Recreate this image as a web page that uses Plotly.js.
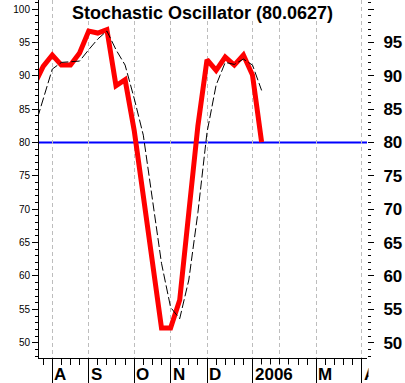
<!DOCTYPE html>
<html>
<head>
<meta charset="utf-8">
<script src="https://cdn.plot.ly/plotly-3.0.1.min.js"></script>
<style>html,body{margin:0;padding:0;background:#fff}#chart{width:405px;height:383px}</style>
</head>
<body>
<div id="chart"></div>
<script>
// week index (0 = first week of August 2005)
const weekIdx = [-2,-1,0,1,2,3,4,5,6,7,8,9,10,11,12,13,14,15,16,17,18,19,20,21,22,23];
// %K (fast stochastic)
const stochK = [88.6,91.4,93.1,91.6,91.6,93.4,96.7,96.4,96.9,88.5,89.4,81.8,72.0,61.5,52.2,52.2,56.4,69.5,82.5,92.4,90.8,92.8,91.6,93.1,90.1,80.06];
// %D (signal)
const stochD = [82.0,86.4,91.0,92.0,92.1,92.2,93.9,95.5,96.7,93.9,91.6,86.6,81.1,71.8,61.9,55.3,53.6,59.4,69.5,81.5,88.6,92.0,91.7,92.5,91.6,87.8];
// month gridlines / labels
const monthTickIdx = [0,4,9,13,17,22,25,29,34];
const monthLabels = ['A','S','O','N','D','2006','','M','A'];
// y ticks
const yTickVals = [50,55,60,65,70,75,80,85,90,95,100];
const leftTickText = ['50','55','60','65','70','75','80','85','90','95','100'];
const rightTickText = ['50','55','60','65','70','75','80','85','90','95',''];
const refLevel = 80;
const titleText = 'Stochastic Oscillator (80.0627)';

const xRange = [-1.46, 34.58];
const yRange = [47.71, 101.35];

const traces = [
  {x: weekIdx, y: stochK, type: 'scatter', mode: 'lines', yaxis: 'y2',
   line: {color: '#ff0000', width: 5}, hoverinfo: 'skip'},
  {x: weekIdx, y: stochD, type: 'scatter', mode: 'lines', yaxis: 'y2',
   line: {color: '#000000', width: 1, dash: '9px,3px'}, hoverinfo: 'skip'}
];

const labelFont = {family: 'Liberation Sans, Arial, sans-serif', size: 17, color: '#000', weight: 'bold'};

const annotations = monthTickIdx.map((v, i) => ({
  x: v, xref: 'x', y: -0.0447, yref: 'paper', text: monthLabels[i],
  xanchor: 'left', yanchor: 'middle', xshift: 1, showarrow: false,
  font: labelFont, bgcolor: monthLabels[i] === '2006' ? '#ffffff' : 'rgba(0,0,0,0)', borderpad: 0
})).filter(a => a.text !== '');
// clip anything beyond the right edge of the plot in the label row
annotations.push({x: 1, xref: 'paper', y: -0.0447, yref: 'paper', text: ' ', xanchor: 'left', yanchor: 'middle',
  xshift: 0.5, width: 30, height: 22, bgcolor: '#ffffff', showarrow: false, borderpad: 0});

const layout = {
  width: 405, height: 383,
  margin: {l: 39, r: 38, t: 0, b: 25, pad: 0},
  paper_bgcolor: '#ffffff', plot_bgcolor: '#ffffff',
  showlegend: false,
  title: {text: titleText, xref: 'container', yref: 'container', x: 0.5, y: 0.966,
          xanchor: 'center', yanchor: 'middle',
          font: {family: 'Liberation Sans, Arial, sans-serif', size: 18, color: '#000', weight: 'bold'}},
  xaxis: {
    range: xRange, fixedrange: true, zeroline: false,
    showline: true, linecolor: '#000', linewidth: 1,
    tickmode: 'array', tickvals: monthTickIdx, showticklabels: false,
    ticks: 'outside', ticklen: 24, tickwidth: 1, tickcolor: '#000',
    showgrid: true, gridcolor: '#bdbdbd', gridwidth: 1, griddash: '4px,3px',
    minor: {tickmode: 'linear', tick0: 0, dtick: 1, ticks: 'outside', ticklen: 6, tickwidth: 1, tickcolor: '#000', showgrid: false}
  },
  yaxis: {
    range: yRange, fixedrange: true, zeroline: false, showgrid: false,
    showline: true, linecolor: '#000', linewidth: 1,
    tickmode: 'array', tickvals: yTickVals, ticktext: leftTickText,
    ticks: 'outside', ticklen: 6, tickwidth: 1, tickcolor: '#000',
    tickfont: {family: 'Liberation Sans Narrow, Arial Narrow, Liberation Sans, Arial, sans-serif', size: 10, color: '#000'},
    minor: {tickmode: 'linear', tick0: 0, dtick: 1, ticks: 'outside', ticklen: 3, tickwidth: 1, tickcolor: '#000', showgrid: false}
  },
  yaxis2: {
    range: yRange, fixedrange: true, overlaying: 'y', side: 'right', zeroline: false, showgrid: false,
    showline: false,
    tickmode: 'array', tickvals: yTickVals, ticktext: rightTickText,
    ticks: 'outside', ticklen: 6, tickwidth: 1, tickcolor: '#000',
    ticklabelstandoff: 6,
    tickfont: labelFont,
    minor: {tickmode: 'linear', tick0: 0, dtick: 1, ticks: 'outside', ticklen: 3, tickwidth: 1, tickcolor: '#000', showgrid: false}
  },
  shapes: [
    {type: 'line', xref: 'paper', x0: 0, x1: 1, yref: 'y', y0: refLevel, y1: refLevel,
     line: {color: '#0000ff', width: 2}, layer: 'below'},
    {type: 'rect', xref: 'paper', x0: 0.082, x1: 0.918, yref: 'paper', y0: 0.941, y1: 1,
     fillcolor: '#ffffff', line: {width: 0}, layer: 'above'}
  ],
  annotations: annotations
};

Plotly.newPlot('chart', traces, layout, {staticPlot: true, displayModeBar: false});
</script>
</body>
</html>
